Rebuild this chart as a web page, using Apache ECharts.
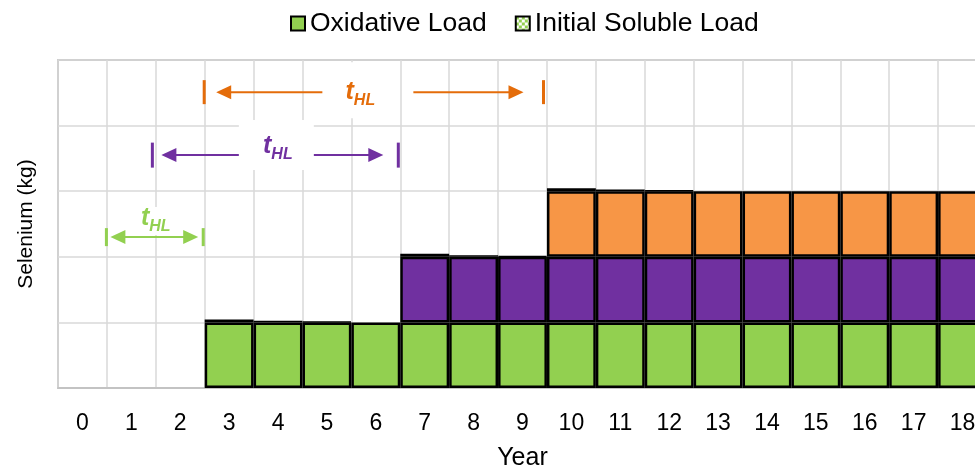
<!DOCTYPE html>
<html><head><meta charset="utf-8">
<script src="https://cdn.jsdelivr.net/npm/echarts@6/dist/echarts.min.js"></script>
<style>html,body{margin:0;padding:0;background:#fff}#c{width:975px;height:471px}</style>
</head><body><div id="c"></div>
<script>
// ---- data ----
const years = ['0','1','2','3','4','5','6','7','8','9','10','11','12','13','14','15','16','17','18'];
const oxidativePhase1 = [null,null,null,1,1,1,1,1,1,1,1,1,1,1,1,1,1,1,1];
const oxidativePhase2 = [null,null,null,null,null,null,null,1,1,1,1,1,1,1,1,1,1,1,1];
const oxidativePhase3 = [null,null,null,null,null,null,null,null,null,null,1,1,1,1,1,1,1,1,1];
const initialSoluble  = [null,null,null,0.045,0.025,0.01,null,0.045,0.025,0.01,0.045,0.025,0.01,null,null,null,null,null,null];
const solublePhase    = [0,0,0,0,0,0,0,1,1,1,2,2,2,2,2,2,2,2,2];
// half-life spans (x in year units, level in y units)
const halfLifeStart = [0.49, 1.43, 2.49];
const halfLifeEnd   = [2.47, 6.46, 9.43];
const halfLifeLevel = [2.30, 3.55, 4.51];

// ---- styles ----
const FONT = '"Liberation Sans", Arial, sans-serif';
const phaseColors = ['#92d050', '#7030a0', '#f79646'];
const arrowColors = ['#92d050', '#7030a0', '#e46c0a'];
function makePattern(color) {
  const c = document.createElement('canvas');
  c.width = 6; c.height = 6;
  const g = c.getContext('2d');
  g.fillStyle = '#ffffff'; g.fillRect(0, 0, 6, 6);
  g.fillStyle = color; g.fillRect(0, 0, 3, 3); g.fillRect(3, 3, 3, 3);
  return { image: c, repeat: 'repeat' };
}
const patterns = phaseColors.map(makePattern);
// per-arrow drawing style (pixel offsets)
const arrowStyle = [
  { tickH: 18, insetL: 4,  insetR: 5,  gap: null,          labelDx: -1.5, tDy: -19.5, box: [-24, -30, 48, 28] },
  { tickH: 25, insetL: 9,  insetR: 15, gap: [-36.5, 38.5], labelDx: 0,    tDy: -9.5,  box: [-36.5, -35, 75, 50] },
  { tickH: 24, insetL: 12, insetR: 20, gap: [-51.5, 39.5], labelDx: -16,  tDy: 0,     box: [-51.5, -30, 91, 56] }
];

function barSeries(name, values, color, bw) {
  return {
    name, type: 'bar', stack: 'total', data: values,
    barCategoryGap: '0%', barGap: '0%',
    itemStyle: { color, borderColor: '#000', borderWidth: bw || 2.5 },
    emphasis: { disabled: true }, animation: false
  };
}

const solubleData = initialSoluble.map((v, i) => ({
  value: v,
  itemStyle: { color: patterns[solublePhase[i]] }
}));

const halfLifeData = halfLifeStart.map((s, i) => [s, halfLifeLevel[i], halfLifeEnd[i], i]);

function renderHalfLife(params, api) {
  const i = api.value(3);
  const st = arrowStyle[i];
  const col = arrowColors[i];
  const a = api.coord([api.value(0), api.value(1)]);
  const b = api.coord([api.value(2), api.value(1)]);
  const y = a[1];
  const cx = (a[0] + b[0]) / 2;
  const lx = cx + st.labelDx;
  const tipL = a[0] + st.insetL, tipR = b[0] - st.insetR;
  const head = 15, hh = 7;
  const lineStyle = { stroke: col, lineWidth: 2 };
  const children = [];
  children.push({ type: 'rect', shape: { x: lx + st.box[0], y: y + st.box[1], width: st.box[2], height: st.box[3] }, style: { fill: '#fff' } });
  children.push({ type: 'rect', shape: { x: a[0] - 1.5, y: y - st.tickH / 2, width: 3, height: st.tickH }, style: { fill: col } });
  children.push({ type: 'rect', shape: { x: b[0] - 1.5, y: y - st.tickH / 2, width: 3, height: st.tickH }, style: { fill: col } });
  if (st.gap) {
    children.push({ type: 'line', shape: { x1: tipL + head - 1, y1: y, x2: cx + st.gap[0], y2: y }, style: lineStyle });
    children.push({ type: 'line', shape: { x1: cx + st.gap[1], y1: y, x2: tipR - head + 1, y2: y }, style: lineStyle });
  } else {
    children.push({ type: 'line', shape: { x1: tipL + head - 1, y1: y, x2: tipR - head + 1, y2: y }, style: lineStyle });
  }
  children.push({ type: 'polygon', shape: { points: [[tipL, y], [tipL + head, y - hh], [tipL + head, y + hh]] }, style: { fill: col } });
  children.push({ type: 'polygon', shape: { points: [[tipR, y], [tipR - head, y - hh], [tipR - head, y + hh]] }, style: { fill: col } });
  children.push({ type: 'text', style: { text: 't', x: lx - 4, y: y + st.tDy, align: 'right', verticalAlign: 'middle', fill: col, font: 'italic bold 25px ' + FONT } });
  children.push({ type: 'text', style: { text: 'HL', x: lx - 4, y: y + st.tDy + 8.5, align: 'left', verticalAlign: 'middle', fill: col, font: 'italic bold 16px ' + FONT } });
  return { type: 'group', children };
}

const chart = echarts.init(document.getElementById('c'), null, { renderer: 'canvas' });
chart.setOption({
  animation: false,
  backgroundColor: '#fff',
  textStyle: { fontFamily: FONT },
  legend: {
    left: 290, top: 10, padding: 0, icon: 'rect', itemWidth: 14, itemHeight: 14, itemGap: 28,
    textStyle: { fontSize: 26.5, color: '#000', fontFamily: FONT },
    selectedMode: false,
    data: [
      { name: 'Oxidative Load', itemStyle: { color: phaseColors[0], borderColor: '#000', borderWidth: 2 } },
      { name: 'Initial Soluble Load', itemStyle: { color: patterns[0], borderColor: '#000', borderWidth: 2 } }
    ]
  },
  grid: { left: 58, top: 60, width: 929, height: 328, outerBoundsMode: 'none', containLabel: false,
          show: true, borderColor: '#a6a6a6', borderWidth: 1.5, backgroundColor: 'transparent' },
  xAxis: [{
    type: 'category', data: years,
    name: 'Year', nameLocation: 'middle', nameGap: 58,
    nameTextStyle: { fontSize: 25, color: '#000', fontFamily: FONT },
    axisLine: { show: true, lineStyle: { color: '#bfbfbf', width: 1.5 } },
    axisTick: { show: false },
    axisLabel: { fontSize: 23, color: '#000', margin: 24, interval: 0, fontFamily: FONT },
    splitLine: { show: true, interval: 0, lineStyle: { color: '#d9d9d9', width: 1.5 } }
  }, {
    type: 'value', min: -0.5, max: 18.5, show: false
  }],
  yAxis: [{
    type: 'value', min: 0, max: 5, interval: 1,
    name: 'Selenium (kg)', nameLocation: 'middle', nameGap: 21,
    nameTextStyle: { fontSize: 21, color: '#000', fontFamily: FONT },
    axisLabel: { show: false }, axisTick: { show: false }, axisLine: { show: false },
    splitLine: { show: true, lineStyle: { color: '#d9d9d9', width: 1.5 } }
  }],
  series: [
    barSeries('Oxidative Load', oxidativePhase1, phaseColors[0]),
    barSeries('Oxidative Load (phase 2)', oxidativePhase2, phaseColors[1]),
    barSeries('Oxidative Load (phase 3)', oxidativePhase3, phaseColors[2]),
    barSeries('Initial Soluble Load', solubleData, patterns[0], 1.5),
    {
      type: 'custom', name: 'halfLife', xAxisIndex: 1, yAxisIndex: 0,
      data: halfLifeData, encode: { x: [0, 2], y: 1 },
      renderItem: renderHalfLife, clip: false, silent: true, z: 5
    }
  ]
});
</script>
</body></html>
